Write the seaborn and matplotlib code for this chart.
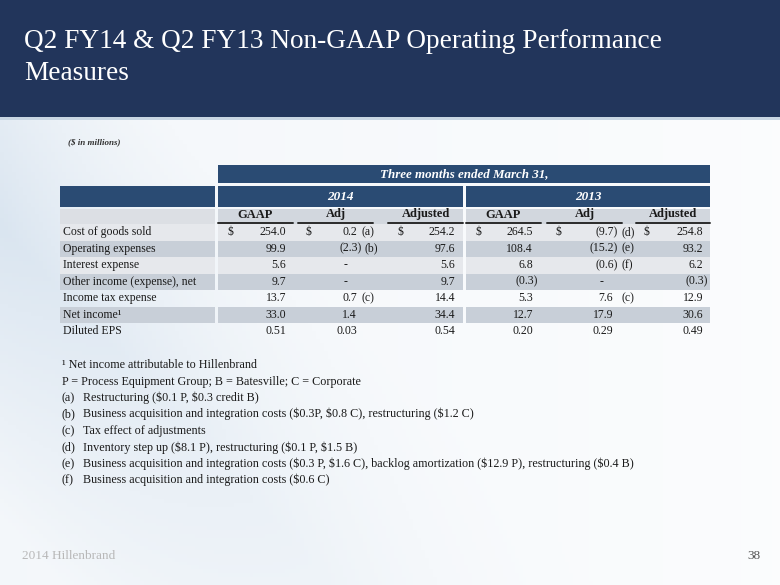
import numpy as np
import matplotlib
matplotlib.use("Agg")
from matplotlib import pyplot as plt
import seaborn as sns

sns.set_theme(style="white")
plt.rcParams['font.family'] = ['Liberation Serif', 'DejaVu Serif']
plt.rcParams['text.parse_math'] = False

# ---- data ----
title_lines = ["Q2 FY14 & Q2 FY13 Non-GAAP Operating Performance", "Measures"]
row_labels = ["Cost of goods sold", "Operating expenses", "Interest expense",
              "Other income (expense), net", "Income tax expense", "Net income\u00b9", "Diluted EPS"]
decimals = [1, 1, 1, 1, 1, 1, 2]
years = ["2014", "2013"]
col_heads = ["GAAP", "Adj", "Adjusted"]

gaap_14 = [254.0, 99.9, 5.6, 9.7, 13.7, 33.0, 0.51]
adj_14 = [0.2, -2.3, 0, 0, 0.7, 1.4, 0.03]
adjusted_14 = [254.2, 97.6, 5.6, 9.7, 14.4, 34.4, 0.54]
notes_14 = ["a", "b", "", "", "c", "", ""]

gaap_13 = [264.5, 108.4, 6.8, -0.3, 5.3, 12.7, 0.20]
adj_13 = [-9.7, -15.2, -0.6, 0, 7.6, 17.9, 0.29]
adjusted_13 = [254.8, 93.2, 6.2, -0.3, 12.9, 30.6, 0.49]
notes_13 = ["d", "e", "f", "", "c", "", ""]

footnotes = [
    ("", "\u00b9 Net income attributable to Hillenbrand"),
    ("", "P = Process Equipment Group; B = Batesville; C = Corporate"),
    ("(a)", "Restructuring ($0.1 P, $0.3 credit B)"),
    ("(b)", "Business acquisition and integration costs ($0.3P, $0.8 C), restructuring ($1.2 C)"),
    ("(c)", "Tax effect of adjustments"),
    ("(d)", "Inventory step up ($8.1 P), restructuring ($0.1 P, $1.5 B)"),
    ("(e)", "Business acquisition and integration costs ($0.3 P, $1.6 C), backlog amortization ($12.9 P), restructuring ($0.4 B)"),
    ("(f)", "Business acquisition and integration costs ($0.6 C)"),
]

# ---- layout / style ----
navy = '#22355b'
head_blue = '#2a4b73'
sub_gray = '#d2d7de'
dark_row = '#c8cfd8'
light_row = '#e6e8ec'
row_shade = [light_row, dark_row, light_row, dark_row, None, dark_row, None]
txt = '#1a1a1a'
fs = 8.5

fig = plt.figure(figsize=(7.8, 5.85), dpi=100)
ax = fig.add_axes([0, 0, 1, 1])
ax.set_xlim(0, 780)
ax.set_ylim(585, 0)
ax.axis('off')

# soft background
gx, gy = np.meshgrid(np.linspace(0, 1, 200), np.linspace(0, 1, 150))
streak = np.clip(1 - np.abs((gx * 1.3 + (1 - gy) * 0.9) - 0.55) / 0.45, 0, 1) * (1 - gx) ** 1.5
base = np.array([1.0, 1.0, 1.0])
tint = np.array([0.80, 0.86, 0.92])
img = base + (tint - base) * (0.22 + 0.5 * streak)[..., None] * (1 - 0.65 * gx)[..., None]
ax.imshow(np.clip(img, 0, 1), extent=[0, 780, 585, 0], aspect='auto', zorder=0)

# title band
ax.barh(58.5, 780, height=117, left=0, color=navy, lw=0, zorder=1)
ax.barh(118.5, 780, height=3, left=0, color='#c9d6e3', lw=0, zorder=1)
ax.text(24, 48, title_lines[0], color='white', fontsize=19.6, va='baseline', zorder=3)
ax.text(24, 80, title_lines[1], color='white', fontsize=19.6, va='baseline', zorder=3)

ax.text(68, 142, "($ in millions)", fontsize=6.5, style='italic', weight='bold',
        color='#333333', va='center', zorder=3)

# header cells
ax.barh(174, 492, height=18, left=218, color=head_blue, lw=0, zorder=2)
ax.text(464, 174, "Three months ended March 31,", color='white', fontsize=9.4,
        style='italic', weight='bold', va='center', ha='center', zorder=3)
ax.barh(196.5, 155, height=21, left=60, color=head_blue, lw=0, zorder=2)
blocks = [(218, 463), (466, 710)]
for (x0, x1), yr in zip(blocks, years):
    ax.barh(196.5, x1 - x0, height=21, left=x0, color=head_blue, lw=0, zorder=2)
    ax.text((x0 + x1) / 2, 196.5, yr, color='white', fontsize=9.5, style='italic',
            weight='bold', va='center', ha='center', zorder=3)

ax.barh(216.25, 155, height=15.5, left=60, color='#dcdfe4', lw=0, zorder=2)
for x0, x1 in blocks:
    ax.barh(216.25, x1 - x0, height=15.5, left=x0, color=sub_gray, lw=0, zorder=2)
head_spans = [(218, 293), (298, 373), (388, 463), (466, 541), (547, 622), (636, 710)]
for i, (x0, x1) in enumerate(head_spans):
    ax.text((x0 + x1) / 2, 214.5, col_heads[i % 3], fontsize=9, weight='bold',
            color=txt, va='center', ha='center', zorder=3)
    ax.plot([x0, x1], [222.8, 222.8], color='#2b2b2b', lw=1.4, zorder=3)

# data rows
top0, rh = 224.0, 16.5
columns = [gaap_14, adj_14, adjusted_14, gaap_13, adj_13, adjusted_13]
col_right = [286, 357, 455, 533, 613, 703]
dollar_x = [228, 306, 397, 476, 556, 643]
note_x = [None, 362, None, None, 621, None]
col_notes = [None, notes_14, None, None, notes_13, None]
hang = 4.5

for r, lab in enumerate(row_labels):
    yc = top0 + rh * (r + 0.5)
    shade = row_shade[r]
    if shade:
        ax.barh(yc, 155, height=rh, left=60, color=shade, lw=0, zorder=2)
        for x0, x1 in blocks:
            ax.barh(yc, x1 - x0, height=rh, left=x0, color=shade, lw=0, zorder=2)
    ax.text(63, yc, lab, fontsize=fs, color=txt, va='center', ha='left', zorder=3)
    for c, vals in enumerate(columns):
        v = vals[r]
        R = col_right[c]
        if v == 0:
            ax.text(R - 12, yc, "-", fontsize=fs, color=txt, va='center', ha='center', zorder=3)
        elif v < 0:
            s = "({:.{d}f})".format(-v, d=decimals[r])
            ax.text(R + hang, yc, s, fontsize=fs, color=txt, va='center', ha='right', zorder=3)
        else:
            s = "{:.{d}f}".format(v, d=decimals[r])
            ax.text(R, yc, s, fontsize=fs, color=txt, va='center', ha='right', zorder=3)
        if r == 0:
            ax.text(dollar_x[c], yc, "$", fontsize=fs, color=txt, va='center', ha='left', zorder=3)
        if col_notes[c] and col_notes[c][r]:
            nx = note_x[c]
            if v < 0:
                nx = max(nx, R + hang + 3)
            ax.text(nx, yc, "(" + col_notes[c][r] + ")", fontsize=fs, color=txt,
                    va='center', ha='left', zorder=3)

# footnotes
fy0, fdy = 368, 16.5
for i, (tag, body) in enumerate(footnotes):
    y = fy0 + fdy * i
    if tag:
        ax.text(62, y, tag, fontsize=8.7, color=txt, va='baseline', ha='left', zorder=3)
        ax.text(83, y, body, fontsize=8.7, color=txt, va='baseline', ha='left', zorder=3)
    else:
        ax.text(62, y, body, fontsize=8.7, color=txt, va='baseline', ha='left', zorder=3)

# footer
ax.text(22, 559, "2014 Hillenbrand", fontsize=9.5, color='#b8b8b8', va='baseline', zorder=3)
ax.text(760, 559, "38", fontsize=9.5, color='#555555', va='baseline', ha='right', zorder=3)

fig.savefig('out.png', dpi=100)
